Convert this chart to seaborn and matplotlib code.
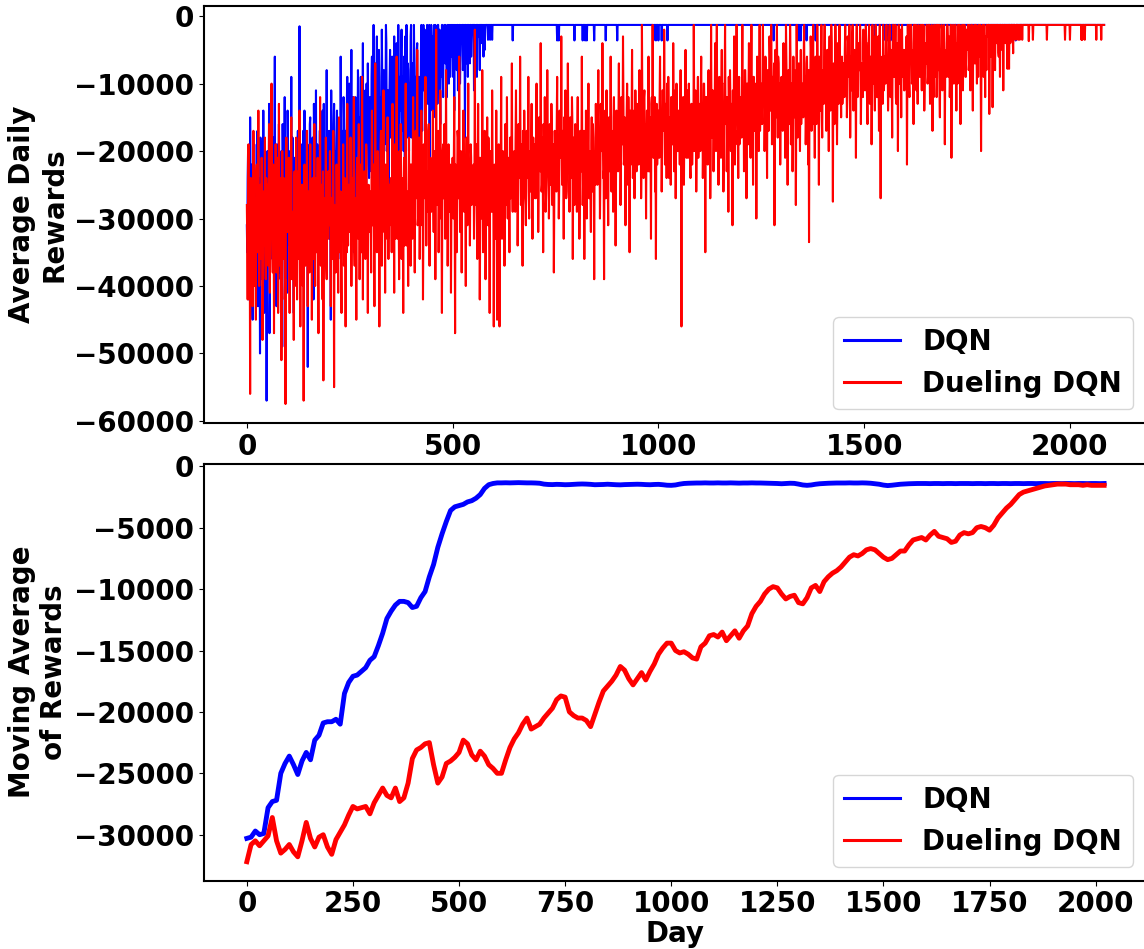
import numpy as np
import matplotlib
matplotlib.use("Agg")
import matplotlib.pyplot as plt
from matplotlib.ticker import MultipleLocator
import seaborn as sns

# ---------------------------------------------------------------------------
# Daily rewards as magnitudes in thousands (all rewards are negative).
# While the agents are still learning, the even-day and odd-day readings
# are kept in two lists each; afterwards a steady level with a few dips.
# ---------------------------------------------------------------------------
LAST_DAY = 2083

# DQN, learning phase: even days 0 .. 598
dqn_even_k = [
    31, 24, 42, 27, 15, 38, 22, 45, 29, 19, 33, 26, 40, 17, 35, 28, 50, 21, 37, 25, 14, 44, 30, 23, 57, 20, 34, 13, 41, 27,
    25, 36, 18, 31, 6, 29, 43, 22, 35, 16, 27, 39, 20, 49, 24, 30, 12, 33, 26, 41, 19, 28, 23, 37, 9, 31, 25, 44, 21, 29,
    22, 34, 17, 28, 1.5, 38, 24, 19, 31, 26, 14, 36, 20, 27, 52, 23, 30, 15, 25, 33, 18, 42, 22, 28, 11, 26, 35, 20, 29, 17,
    21, 30, 14, 26, 37, 19, 24, 8, 28, 22, 33, 17, 45, 25, 20, 29, 13, 31, 23, 18, 27, 36, 16, 24, 6, 30, 21, 26, 15, 28,
    17, 26, 9, 22, 31, 14, 19, 5, 24, 16, 35, 20, 12, 27, 18, 8, 23, 15, 30, 13, 21, 4, 25, 17, 11, 28, 19, 7, 22, 15,
    14, 23, 6, 18, 1.3, 26, 12, 19, 3, 21, 15, 9, 28, 13, 2, 17, 24, 10, 16, 1.3, 20, 11, 33, 14, 5, 18, 8, 22, 12, 3,
    12, 19, 4, 15, 1.3, 22, 9, 14, 2, 17, 11, 6, 25, 10, 1.3, 16, 8, 20, 13, 3, 18, 7, 12, 1.3, 21, 9, 15, 4, 11, 28,
    9, 14, 1.3, 17, 6, 11, 2, 19, 8, 1.3, 13, 5, 22, 7, 1.3, 10, 3, 15, 6, 1.3, 12, 4, 1.3, 9, 2, 16, 5, 1.3, 8, 3,
    1.3, 7, 2, 12, 1.3, 5, 1.3, 9, 3, 1.3, 6, 1.3, 14, 2, 1.3, 8, 1.3, 4, 1.3, 10, 1.3, 3, 1.3, 6, 1.3, 18, 1.3, 5, 1.3, 2,
    1.3, 7, 1.3, 3, 1.3, 1.3, 11, 1.3, 4, 1.3, 1.3, 2, 1.3, 8, 1.3, 1.3, 3.5, 1.3, 1.3, 5, 1.3, 1.3, 1.3, 3.5, 1.3, 1.3, 1.3, 1.3, 3.5, 1.3,
]
# DQN, learning phase: odd days 1 .. 599
dqn_odd_k = [
    35, 20, 30, 38, 26, 33, 41, 25, 34, 28, 23, 37, 31, 43, 24, 32, 18, 39, 29, 34, 27, 36, 21, 33, 40, 26, 31, 47, 25, 35,
    30, 22, 28, 17, 35, 24, 19, 31, 27, 38, 21, 29, 33, 16, 28, 25, 36, 22, 30, 14, 27, 34, 20, 26, 32, 18, 29, 23, 35, 24,
    27, 20, 25, 31, 18, 26, 29, 22, 17, 30, 24, 21, 34, 19, 25, 28, 16, 32, 23, 20, 27, 13, 29, 24, 31, 19, 22, 26, 17, 25,
    24, 18, 27, 13, 22, 29, 20, 25, 17, 30, 19, 23, 11, 26, 21, 16, 28, 20, 24, 14, 22, 27, 19, 31, 21, 17, 25, 12, 23, 20,
    20, 13, 24, 17, 10, 21, 15, 27, 18, 12, 22, 16, 25, 14, 19, 11, 23, 17, 9, 20, 16, 26, 13, 18, 22, 10, 19, 15, 24, 12,
    17, 9, 20, 13, 24, 7, 16, 11, 21, 14, 5, 18, 12, 23, 10, 15, 8, 19, 13, 4, 17, 11, 22, 9, 14, 16, 6, 12, 19, 10,
    14, 6, 17, 10, 8, 19, 12, 5, 15, 9, 20, 11, 3, 14, 18, 7, 13, 10, 16, 1.3, 12, 9, 23, 8, 14, 11, 5, 17, 9, 13,
    11, 5, 13, 8, 1.3, 10, 6, 15, 4, 12, 7, 1.3, 9, 11, 3, 14, 6, 1.3, 10, 5, 8, 13, 1.3, 7, 11, 4, 9, 1.3, 12, 6,
    5, 1.3, 8, 3, 1.3, 10, 4, 1.3, 6, 1.3, 9, 3, 1.3, 7, 5, 1.3, 11, 2, 1.3, 6, 4, 1.3, 8, 1.3, 3, 1.3, 7, 1.3, 9, 1.3,
    4, 1.3, 6, 1.3, 2, 1.3, 1.3, 5, 1.3, 9, 1.3, 3, 1.3, 1.3, 4, 1.3, 1.3, 6, 1.3, 2, 1.3, 1.3, 1.3, 1.3, 1.3, 3.5, 1.3, 1.3, 1.3, 1.3,
]
# DQN once converged
dqn_settled_level_k = 1.3
dqn_settled_dips_k = {
    646: 3.6, 754: 3.6, 758: 3.6, 796: 3.6, 816: 3.6, 822: 3.6, 826: 3.6, 844: 3.6,
    872: 3.6, 900: 3.6, 988: 3.6, 994: 3.6, 1000: 3.6, 1008: 3.6, 1022: 3.6,
    1280: 3.6, 1342: 3.6, 1346: 3.6, 1360: 3.6, 1382: 3.6, 1526: 3.6, 1552: 3.6,
    1558: 3.6, 1564: 3.6, 1644: 3.6, 1868: 3.6,
}

# Dueling DQN, learning phase: even days 0 .. 1878
dueling_even_k = [
    28, 42, 19, 35, 56, 24, 31, 43, 17, 38, 27, 45, 22, 33, 14, 40, 29, 36, 21, 48, 26, 34, 18, 39, 30,
    25, 37, 16, 41, 29, 10, 34, 22, 47, 31, 19, 38, 26, 44, 13, 33, 28, 51, 20, 36, 24, 42, 57.5, 18, 27,
    32, 21, 44, 27, 15, 39, 30, 48, 23, 35, 18, 42, 28, 36, 14, 46, 25, 33, 40, 57, 22, 37, 29, 17, 43,
    26, 38, 19, 33, 45, 24, 31, 16, 40, 28, 35, 21, 47, 30, 12, 37, 25, 42, 54, 27, 34, 18, 39, 29, 23,
    31, 20, 43, 27, 36, 17, 55, 29, 38, 22, 33, 41, 15, 35, 26, 44, 30, 19, 37, 24, 46, 28, 13, 34, 25,
    29, 18, 40, 24, 33, 12, 37, 27, 45, 21, 31, 16, 39, 26, 34, 9, 42, 28, 23, 36, 19, 30, 44, 25, 32,
    26, 38, 14, 31, 22, 43, 7, 29, 35, 20, 33, 46, 24, 17, 37, 27, 11, 32, 41, 23, 30, 15, 36, 25, 28,
    24, 35, 13, 30, 41, 19, 28, 6, 33, 22, 39, 27, 16, 36, 25, 44, 21, 31, 10, 34, 26, 40, 18, 29, 37,
    22, 33, 12, 27, 38, 17, 25, 5, 30, 20, 36, 24, 14, 31, 42, 19, 26, 9, 34, 23, 28, 16, 37, 21, 29,
    25, 14, 32, 21, 39, 2, 28, 18, 35, 23, 11, 30, 44, 20, 27, 16, 33, 8, 26, 37, 19, 29, 22, 41, 24,
    21, 30, 12, 47, 24, 35, 17, 27, 6, 32, 20, 38, 25, 14, 29, 22, 40, 18, 31, 10, 26, 34, 19, 28, 23,
    24, 33, 2, 28, 19, 36, 13, 26, 42, 21, 30, 8, 35, 23, 17, 39, 27, 15, 31, 22, 44, 20, 29, 11, 25,
    46, 22, 31, 14, 45, 27, 19, 46, 24, 9, 33, 20, 28, 37, 16, 25, 12, 30, 21, 35, 18, 26, 7, 29, 23,
    20, 29, 11, 25, 34, 16, 23, 6, 28, 19, 37, 22, 14, 27, 31, 17, 24, 9, 30, 21, 26, 13, 33, 18, 23,
    19, 27, 10, 23, 32, 15, 21, 4, 26, 18, 35, 20, 12, 29, 24, 8, 22, 30, 16, 25, 13, 28, 19, 38, 17,
    18, 26, 9, 22, 30, 14, 20, 3, 25, 17, 33, 19, 11, 27, 23, 7, 21, 29, 15, 24, 12, 36, 18, 28, 16,
    21, 29, 12, 25, 33, 17, 23, 6, 28, 19, 36, 22, 14, 30, 24, 10, 27, 20, 32, 15, 26, 18, 39, 21, 13,
    17, 25, 8, 22, 30, 13, 20, 4, 24, 39, 16, 27, 11, 21, 31, 15, 23, 6, 26, 18, 29, 12, 19, 34, 14,
    16, 23, 7, 20, 28, 12, 18, 3, 22, 15, 31, 19, 10, 25, 17, 35, 14, 21, 5, 24, 16, 27, 11, 19, 13,
    15, 22, 8, 19, 27, 1.3, 17, 24, 11, 20, 30, 14, 18, 6, 23, 16, 33, 12, 1.3, 21, 15, 26, 36, 13, 19,
    14, 21, 6, 18, 26, 11, 16, 2, 22, 13, 24, 17, 9, 24, 15, 25, 12, 19, 4, 23, 14, 27, 10, 17, 20,
    15, 22, 8, 46, 19, 12, 25, 17, 5, 21, 14, 21, 10, 18, 24, 13, 22, 16, 1.3, 20, 11, 26, 15, 9, 19,
    13, 20, 6, 17, 24, 10, 15, 35, 19, 12, 22, 8, 16, 27, 1.3, 18, 11, 23, 14, 4, 20, 1.3, 15, 25, 9,
    14, 21, 5, 18, 26, 10, 1.3, 16, 23, 12, 29, 15, 8, 20, 13, 31, 17, 3, 22, 11, 1.3, 19, 24, 9, 16,
    12, 18, 1.3, 15, 23, 8, 13, 27, 10, 19, 4, 16, 21, 1.3, 14, 25, 9, 17, 11, 30, 6, 15, 20, 1.3, 13,
    10, 16, 1.3, 13, 20, 6, 11, 24, 8, 17, 3, 14, 1.3, 19, 9, 12, 31, 5, 15, 1.3, 18, 7, 13, 22, 10,
    11, 17, 4, 14, 21, 1.3, 12, 25, 8, 16, 1.3, 19, 10, 23, 6, 15, 13, 28, 1.3, 18, 9, 14, 20, 5, 12,
    10, 15, 1.3, 12, 19, 7, 11, 22, 33.5, 14, 3, 17, 9, 1.3, 13, 21, 6, 16, 1.3, 11, 25, 8, 14, 1.3, 18,
    8, 13, 1.3, 11, 17, 5, 9, 20, 3, 14, 1.3, 12, 27.5, 7, 16, 1.3, 10, 19, 4, 13, 1.3, 9, 15, 6, 11,
    7, 12, 1.3, 10, 15, 3, 8, 1.3, 18, 6, 11, 1.3, 14, 5, 9, 21, 1.3, 12, 4, 8, 1.3, 16, 7, 10, 2,
    7, 11, 1.3, 9, 16, 4, 1.3, 13, 8, 19, 1.3, 10, 5, 14, 1.3, 7, 12, 3, 17, 1.3, 27, 9, 6, 1.3, 11,
    6, 10, 1.3, 8, 14, 3, 1.3, 12, 7, 18, 1.3, 9, 4, 1.3, 13, 6, 20, 1.3, 10, 2, 15, 1.3, 8, 5, 11,
    5, 9, 22, 1.3, 7, 12, 3, 1.3, 10, 6, 16, 1.3, 8, 1.3, 4, 13, 1.3, 9, 2, 1.3, 11, 5, 1.3, 14, 7,
    6, 1.3, 10, 4, 1.3, 13, 7, 1.3, 17, 5, 1.3, 9, 3, 12, 1.3, 8, 1.3, 15, 6, 1.3, 11, 2, 1.3, 19, 7,
    5, 1.3, 9, 3, 12, 1.3, 21, 7, 1.3, 10, 4, 1.3, 14, 6, 1.3, 8, 1.3, 16, 3, 1.3, 11, 5, 1.3, 9, 2,
    4, 1.3, 8, 1.3, 11, 3, 1.3, 14, 5, 1.3, 7, 1.3, 10, 2, 1.3, 6, 1.3, 20, 4, 1.3, 9, 1.3, 12, 3, 1.3,
    3, 1.3, 14.5, 1.3, 6, 1.3, 13.5, 2, 1.3, 8, 1.3, 4, 1.3, 5.4, 1.3, 9, 1.3, 3, 1.3, 11, 1.3, 2, 1.3, 1.3, 7.8,
    1.3, 7.8, 1.3, 3.5, 1.3, 1.3, 5.5, 1.3, 1.3, 3.5, 1.3, 1.3, 3.5, 1.3, 3.5,
]
# Dueling DQN, learning phase: odd days 1 .. 1879
dueling_odd_k = [
    33, 27, 38, 30, 24, 36, 29, 34, 26, 40, 31, 23, 35, 28, 32, 37, 25, 33, 30, 41, 27, 29, 35, 24, 32,
    31, 26, 35, 22, 33, 28, 38, 25, 30, 36, 27, 32, 21, 34, 29, 37, 24, 31, 27, 33, 30, 39, 26, 32, 28,
    28, 35, 30, 24, 37, 29, 33, 26, 40, 31, 27, 34, 23, 36, 30, 28, 38, 25, 32, 29, 35, 27, 33, 30, 26,
    32, 27, 34, 25, 30, 36, 28, 33, 24, 31, 29, 38, 26, 32, 35, 27, 30, 23, 34, 29, 31, 37, 26, 33, 28,
    27, 33, 29, 35, 24, 31, 28, 36, 30, 26, 34, 22, 32, 29, 37, 27, 31, 25, 33, 30, 28, 35, 31, 26, 32,
    30, 25, 32, 28, 21, 34, 27, 31, 24, 29, 33, 26, 30, 22, 35, 28, 25, 31, 27, 33, 24, 29, 26, 32, 28,
    29, 23, 31, 27, 34, 25, 30, 21, 28, 32, 26, 30, 19, 33, 28, 24, 31, 27, 22, 29, 33, 26, 28, 31, 25,
    28, 24, 31, 26, 22, 33, 27, 30, 25, 29, 20, 32, 27, 24, 30, 26, 34, 23, 29, 27, 31, 25, 28, 22, 30,
    26, 21, 29, 24, 19, 27, 23, 31, 25, 18, 28, 22, 26, 20, 30, 24, 27, 21, 25, 29, 17, 26, 23, 28, 22,
    23, 27, 20, 26, 30, 22, 25, 17, 28, 24, 21, 29, 26, 19, 27, 23, 31, 25, 22, 28, 20, 26, 24, 29, 23,
    24, 20, 27, 22, 29, 25, 18, 26, 23, 30, 21, 25, 28, 19, 24, 27, 22, 26, 20, 29, 23, 25, 21, 27, 24,
    22, 27, 25, 19, 29, 24, 26, 21, 30, 23, 28, 20, 25, 27, 22, 31, 24, 26, 18, 28, 23, 25, 29, 21, 26,
    28, 24, 33, 26, 22, 30, 25, 29, 21, 27, 24, 31, 23, 26, 20, 28, 25, 22, 29, 24, 27, 19, 26, 23, 25,
    22, 18, 25, 21, 27, 19, 24, 20, 26, 23, 17, 25, 21, 28, 22, 19, 24, 26, 20, 23, 18, 25, 22, 27, 21,
    21, 17, 24, 20, 26, 18, 23, 19, 25, 22, 16, 24, 20, 27, 21, 18, 23, 25, 19, 22, 17, 24, 21, 26, 20,
    20, 16, 23, 19, 25, 17, 21, 18, 24, 20, 15, 22, 19, 26, 20, 17, 22, 24, 18, 21, 16, 23, 20, 25, 19,
    22, 18, 24, 20, 27, 19, 23, 21, 25, 17, 22, 26, 20, 24, 18, 23, 21, 27, 19, 22, 16, 24, 20, 25, 21,
    19, 15, 22, 18, 24, 16, 20, 17, 23, 19, 14, 21, 18, 25, 19, 16, 21, 23, 17, 20, 15, 22, 19, 24, 18,
    18, 14, 20, 16, 22, 15, 19, 13, 21, 17, 23, 16, 19, 12, 20, 17, 22, 15, 18, 21, 14, 19, 16, 23, 17,
    17, 13, 20, 15, 22, 14, 18, 12, 21, 16, 19, 14, 23, 17, 15, 20, 13, 18, 16, 21, 12, 19, 15, 22, 16,
    16, 12, 18, 14, 20, 11, 17, 13, 19, 15, 10, 18, 14, 21, 16, 12, 17, 19, 13, 16, 11, 18, 15, 20, 14,
    16, 13, 19, 15, 21, 12, 17, 14, 20, 16, 11, 18, 15, 22, 17, 13, 18, 20, 14, 16, 12, 19, 15, 21, 14,
    15, 11, 17, 13, 19, 10, 16, 12, 18, 14, 9, 17, 13, 20, 15, 11, 16, 18, 12, 15, 10, 17, 14, 19, 13,
    14, 11, 17, 13, 19, 10, 15, 12, 18, 14, 9, 16, 13, 20, 14, 11, 16, 18, 12, 15, 10, 17, 13, 19, 12,
    13, 9, 15, 11, 17, 8, 14, 10, 16, 12, 7, 15, 11, 18, 13, 9, 14, 16, 10, 13, 8, 15, 12, 17, 11,
    11, 8, 13, 9, 15, 7, 12, 8, 14, 10, 6, 13, 9, 16, 11, 7, 12, 14, 8, 11, 6, 13, 10, 15, 9,
    12, 8, 14, 10, 16, 7, 13, 9, 15, 11, 6, 14, 10, 17, 12, 8, 13, 15, 9, 12, 7, 14, 11, 16, 10,
    11, 7, 13, 9, 15, 6, 12, 8, 14, 10, 5, 13, 9, 16, 11, 7, 12, 14, 8, 11, 6, 13, 10, 15, 9,
    9, 6, 11, 8, 13, 5, 10, 7, 12, 9, 4, 11, 8, 14, 9, 6, 10, 12, 7, 9, 5, 11, 8, 13, 7,
    8, 5, 10, 6, 12, 4, 9, 6, 11, 7, 3, 10, 7, 13, 8, 5, 9, 11, 6, 8, 4, 10, 7, 12, 6,
    7, 10, 5, 12, 8, 4, 11, 6, 9, 13, 7, 3, 10, 8, 5, 12, 6, 9, 4, 11, 7, 8, 13, 5, 9,
    7, 4, 9, 6, 11, 3, 8, 5, 10, 6, 1.3, 9, 6, 12, 7, 4, 8, 10, 5, 7, 3, 9, 6, 11, 5,
    6, 3, 8, 5, 10, 1.3, 7, 4, 9, 5, 1.3, 8, 5, 11, 6, 3, 7, 9, 4, 6, 1.3, 8, 5, 10, 4,
    7, 4, 9, 1.3, 6, 10, 3, 8, 5, 12, 4, 7, 1.3, 9, 6, 3, 11, 5, 8, 2, 7, 10, 4, 6, 9,
    5, 3, 7, 4, 9, 1.3, 6, 3, 8, 5, 1.3, 7, 4, 10, 5, 2, 6, 8, 3, 5, 1.3, 7, 4, 9, 3,
    5, 2, 7, 4, 8, 1.3, 6, 3, 7, 4, 1.3, 6, 3, 9, 5, 2, 6, 7, 3, 5, 1.3, 6, 4, 8, 3,
    3, 1.3, 5, 2, 6, 1.3, 4, 1.3, 5, 2, 1.3, 4, 1.3, 6, 3, 1.3, 4, 5, 1.3, 3, 1.3, 4, 2, 5, 1.3,
    2, 1.3, 4, 1.3, 1.3, 3, 1.3, 1.3, 2, 1.3, 1.3, 1.3, 2, 1.3, 1.3,
]
# Dueling DQN once converged
dueling_settled_level_k = 1.3
dueling_settled_dips_k = {
    1884: 3.5, 1900: 3.7, 1910: 3.5, 1944: 3.5, 1988: 3.5, 2000: 3.5,
    2028: 3.5, 2030: 3.5, 2036: 3.5, 2064: 3.5, 2076: 3.5,
}

# ---------------------------------------------------------------------------
# Moving average of rewards, one value every 10 days (days 0 .. 2020)
# ---------------------------------------------------------------------------
MA_STEP = 10
dqn_moving_avg = [
    -30300, -30200, -29700, -30000, -29900, -27800, -27300, -27200, -25000, -24200,
    -23600, -24300, -25100, -24000, -23300, -23900, -22300, -21900, -20900, -20800,
    -20800, -20600, -21000, -18500, -17600, -17100, -17000, -16700, -16400, -15800,
    -15500, -14600, -13600, -12400, -11800, -11300, -11000, -11000, -11100, -11500,
    -11400, -10700, -10200, -9000, -8000, -6600, -5500, -4500, -3600, -3300,
    -3200, -3100, -2900, -2800, -2600, -2300, -1800, -1500, -1400, -1350,
    -1350, -1340, -1350, -1340, -1330, -1340, -1350, -1350, -1360, -1380,
    -1450, -1480, -1490, -1470, -1480, -1500, -1490, -1470, -1450, -1440,
    -1450, -1470, -1500, -1490, -1480, -1460, -1480, -1500, -1510, -1490,
    -1480, -1470, -1460, -1470, -1490, -1500, -1480, -1470, -1500, -1540,
    -1550, -1520, -1450, -1400, -1380, -1370, -1360, -1360, -1350, -1360,
    -1360, -1350, -1360, -1360, -1350, -1360, -1370, -1360, -1360, -1350,
    -1360, -1360, -1370, -1380, -1390, -1400, -1420, -1400, -1380, -1390,
    -1450, -1520, -1550, -1520, -1460, -1420, -1400, -1380, -1370, -1360,
    -1360, -1360, -1350, -1360, -1360, -1350, -1360, -1380, -1420, -1460,
    -1530, -1570, -1540, -1500, -1460, -1440, -1420, -1410, -1400, -1400,
    -1400, -1410, -1400, -1400, -1410, -1400, -1400, -1410, -1400, -1400,
    -1400, -1410, -1400, -1400, -1410, -1400, -1400, -1410, -1400, -1400,
    -1410, -1400, -1400, -1410, -1400, -1400, -1410, -1400, -1400, -1410,
    -1400, -1400, -1410, -1400, -1400, -1410, -1400, -1400, -1410, -1400,
    -1400, -1410, -1400,
]
dueling_moving_avg = [
    -32200, -30800, -30500, -30900, -30500, -30100, -28600, -30500, -31500, -31200,
    -30800, -31400, -31800, -30500, -29000, -30300, -31000, -30200, -30000, -31000,
    -31600, -30400, -29800, -29200, -28400, -27700, -27900, -27800, -27700, -28300,
    -27400, -26800, -26200, -26800, -27000, -26200, -27300, -27000, -25800, -23800,
    -23100, -22900, -22600, -22500, -24300, -25800, -25300, -24200, -24000, -23700,
    -23300, -22300, -22600, -23500, -23900, -23200, -23600, -24300, -24600, -25000,
    -25000, -23900, -22900, -22200, -21700, -21000, -20500, -21400, -21200, -21000,
    -20500, -20100, -19700, -19000, -18700, -18800, -20000, -20300, -20500, -20500,
    -20700, -21200, -20200, -19200, -18300, -17900, -17500, -17000, -16300, -16600,
    -17300, -17800, -17300, -16800, -17400, -16700, -16100, -15300, -14800, -14400,
    -14400, -15000, -15200, -15100, -15300, -15600, -15700, -14700, -14400, -13800,
    -13700, -13900, -13500, -14200, -13800, -13400, -14000, -13400, -13000, -12000,
    -11400, -11000, -10400, -10000, -9800, -9900, -10400, -10800, -10600, -10500,
    -11100, -11200, -10700, -9900, -9700, -10200, -9400, -9000, -8700, -8500,
    -8200, -7800, -7400, -7200, -7300, -7100, -6800, -6700, -6800, -7100,
    -7400, -7600, -7500, -7200, -6900, -6900, -6400, -6000, -5900, -5800,
    -6000, -5600, -5300, -5700, -5800, -5900, -6200, -6100, -5600, -5400,
    -5500, -5400, -5000, -4900, -5000, -5200, -4800, -4200, -3800, -3400,
    -3100, -2700, -2300, -2100, -2000, -1900, -1800, -1700, -1600, -1550,
    -1500, -1450, -1450, -1450, -1500, -1500, -1500, -1550, -1500, -1550,
    -1550, -1550, -1550,
]

series_labels = ["DQN", "Dueling DQN"]
series_colors = ["blue", "red"]


def daily_rewards(even_k, odd_k, level_k, dips_k):
    """Interleave even/odd readings, append the converged phase, return rewards."""
    learning = np.empty(len(even_k) + len(odd_k))
    learning[0::2] = even_k
    learning[1::2] = odd_k
    later_days = np.arange(len(learning), LAST_DAY + 1)
    later = [dips_k.get(int(d), level_k) for d in later_days]
    values = -1000.0 * np.concatenate([learning, later])
    return np.arange(len(values)), values


dqn_days, dqn_daily = daily_rewards(dqn_even_k, dqn_odd_k,
                                    dqn_settled_level_k, dqn_settled_dips_k)
duel_days, duel_daily = daily_rewards(dueling_even_k, dueling_odd_k,
                                      dueling_settled_level_k, dueling_settled_dips_k)
ma_days = np.arange(len(dqn_moving_avg)) * MA_STEP

# ---------------------------------------------------------------------------
# Styling
# ---------------------------------------------------------------------------
plt.rcParams.update({
    "font.family": ["DejaVu Sans"],
    "font.size": 20,
    "font.weight": "bold",
    "axes.labelweight": "bold",
    "axes.linewidth": 1.5,
    "axes.unicode_minus": True,
})

fig = plt.figure(figsize=(11.44, 9.49), dpi=100)
ax_top = fig.add_axes([0.1783, 0.5543, 0.8243, 0.4394])
ax_bot = fig.add_axes([0.1783, 0.0720, 0.8243, 0.4394])

# Daily rewards
sns.lineplot(x=dqn_days, y=dqn_daily, ax=ax_top, color=series_colors[0],
             linewidth=1.5, label=series_labels[0], estimator=None, sort=False)
sns.lineplot(x=duel_days, y=duel_daily, ax=ax_top, color=series_colors[1],
             linewidth=1.5, label=series_labels[1], estimator=None, sort=False)
ax_top.set_ylabel("Average Daily\nRewards", fontsize=20, fontweight="bold")
ax_top.set_xlabel("")
ax_top.xaxis.set_major_locator(MultipleLocator(500))
ax_top.yaxis.set_major_locator(MultipleLocator(10000))

# Moving averages
sns.lineplot(x=ma_days, y=dqn_moving_avg, ax=ax_bot, color=series_colors[0],
             linewidth=3.5, label=series_labels[0], estimator=None, sort=False)
sns.lineplot(x=ma_days, y=dueling_moving_avg, ax=ax_bot, color=series_colors[1],
             linewidth=3.5, label=series_labels[1], estimator=None, sort=False)
ax_bot.set_ylabel("Moving Average\nof Rewards", fontsize=20, fontweight="bold")
ax_bot.set_xlabel("Day", fontsize=20, fontweight="bold", labelpad=1.5)
ax_bot.xaxis.set_major_locator(MultipleLocator(250))
ax_bot.yaxis.set_major_locator(MultipleLocator(5000))

for ax in (ax_top, ax_bot):
    ax.tick_params(axis="both", labelsize=20)
    for lbl in ax.get_xticklabels() + ax.get_yticklabels():
        lbl.set_fontweight("bold")
    leg = ax.legend(loc="lower right", prop={"size": 20, "weight": "bold"})
    for line in leg.get_lines():
        line.set_linewidth(2.2)

fig.savefig("out.png", dpi=100)
